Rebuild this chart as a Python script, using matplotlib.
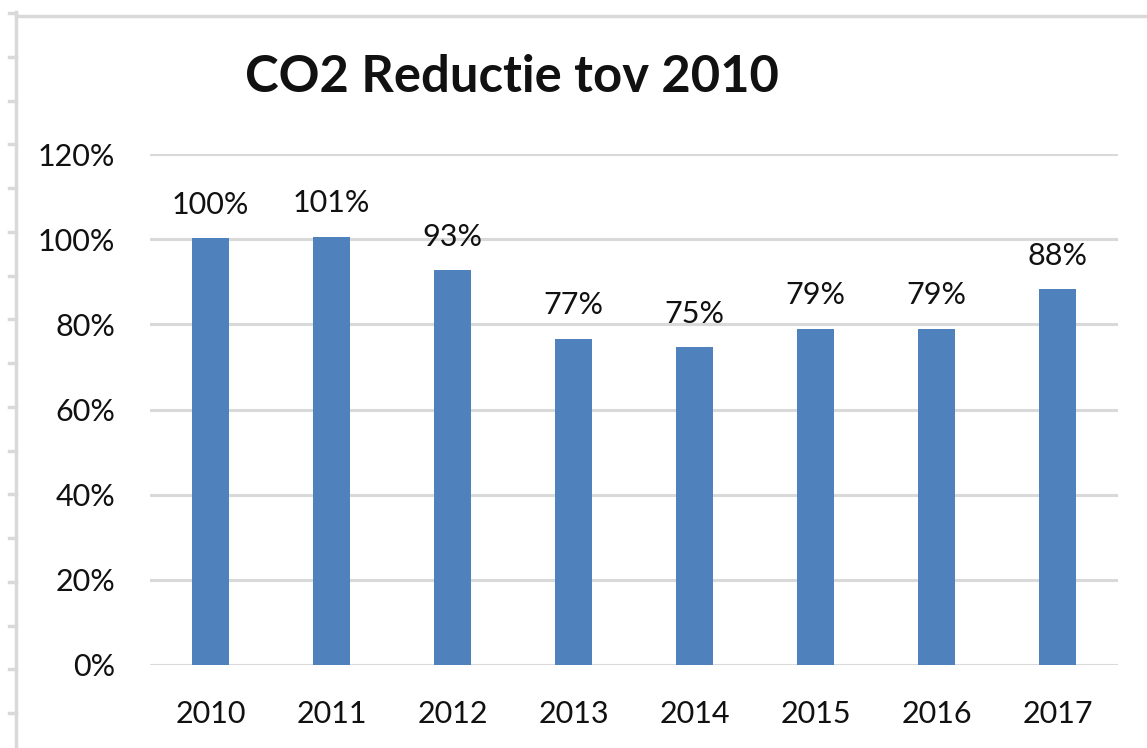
import matplotlib.pyplot as plt
import numpy as np
from matplotlib.lines import Line2D

years = ['2010', '2011', '2012', '2013', '2014', '2015', '2016', '2017']
values = [100.2, 100.6, 92.7, 76.6, 74.6, 78.9, 78.9, 88.2]
yticks = [0, 20, 40, 60, 80, 100, 120]

plt.rcParams['font.family'] = ['Lato', 'DejaVu Sans']

W, H = 1147, 748
fig = plt.figure(figsize=(W / 100, H / 100), dpi=100)
ax = fig.add_axes([150 / W, (H - 665) / H, (1118 - 150) / W, (665 - 154) / H])

x = np.arange(len(years))
ax.bar(x, values, width=0.31, color='#4f81bd', zorder=3)
for xi, v in zip(x, values):
    ax.text(xi, v + 4.6, '%d%%' % round(v), ha='center', va='bottom', fontsize=22, color='#111111')

ax.set_xlim(-0.5, len(years) - 0.5)
ax.set_ylim(0, 120)
ax.set_yticks(yticks)
ax.set_yticklabels(['%d%%' % t for t in yticks], fontsize=22, color='#111111')
ax.set_xticks(x)
ax.set_xticklabels(years, fontsize=22, color='#111111')
ax.tick_params(length=0)
ax.tick_params(axis='y', pad=25)
ax.tick_params(axis='x', pad=25)
ax.grid(axis='y', color='#d9d9d9', linewidth=2.2, zorder=0)
for s in ax.spines.values():
    s.set_visible(False)

fig.text(512 / W, 1 - 77 / H, 'CO2 Reductie tov 2010', ha='center', va='center',
         fontsize=36.5, fontweight='bold', color='#111111')

# sheet border lines and row marks
edge = '#d9d9d9'
fig.add_artist(Line2D([16 / W, 16 / W], [0, 1 - 12 / H], color=edge, lw=2.5, transform=fig.transFigure))
fig.add_artist(Line2D([16 / W, 1], [1 - 16 / H, 1 - 16 / H], color=edge, lw=2.5, transform=fig.transFigure))
for yy in np.arange(13, H, 43.75):
    fig.add_artist(Line2D([9 / W, 16 / W], [1 - yy / H, 1 - yy / H], color=edge, lw=2.5, transform=fig.transFigure))

fig.savefig('out.png', dpi=100)
